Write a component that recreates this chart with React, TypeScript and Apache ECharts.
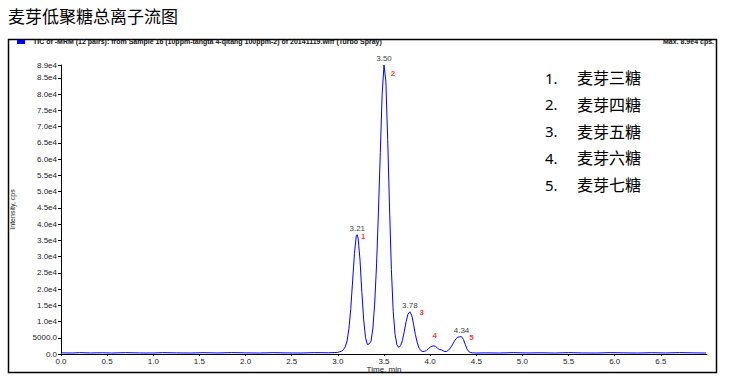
import React, { useEffect, useRef } from "react";
import * as echarts from "echarts";

const titleText = "麦芽低聚糖总离子流图";
const headerText =
  "TIC of -MRM (12 pairs): from Sample 16 (10ppm-tangta 4-qitang 100ppm-2) of 20141119.wiff (Turbo Spray)";
const maxText = "Max. 8.9e4 cps.";
const xAxisName = "Time, min";
const yAxisName = "Intensity, cps";

// chromatogram trace (time in min, intensity in cps)
const times = [
  0.0, 0.12, 0.2, 0.32, 0.45, 0.55, 0.7, 0.85, 1.0, 1.1, 1.25, 1.4, 1.55, 1.7, 1.85, 2.0, 2.15, 2.3, 2.45,
  2.6, 2.75, 2.9, 2.96, 3.0, 3.02, 3.04, 3.06, 3.08, 3.1, 3.12, 3.14, 3.16, 3.18, 3.2, 3.21, 3.22, 3.24,
  3.26, 3.28, 3.3, 3.32, 3.34, 3.36, 3.38, 3.4, 3.42, 3.44, 3.46, 3.48, 3.5, 3.52, 3.54, 3.56, 3.58, 3.6,
  3.62, 3.64, 3.66, 3.68, 3.7, 3.72, 3.74, 3.76, 3.78, 3.8, 3.82, 3.84, 3.86, 3.88, 3.9, 3.92, 3.94, 3.96,
  3.98, 4.0, 4.02, 4.04, 4.06, 4.08, 4.1, 4.12, 4.14, 4.16, 4.18, 4.2, 4.22, 4.24, 4.26, 4.28, 4.3, 4.32,
  4.34, 4.36, 4.38, 4.4, 4.42, 4.44, 4.46, 4.5, 4.6, 4.75, 4.9, 5.05, 5.2, 5.35, 5.5, 5.65, 5.8, 5.95,
  6.1, 6.25, 6.4, 6.55, 6.7, 6.85, 6.99,
];
const intensity = [
  350, 300, 420, 320, 380, 300, 420, 330, 300, 420, 350, 300, 400, 320, 430, 350, 300, 410, 330,
  300, 420, 380, 450, 500, 700, 900, 1300, 2200, 4000, 7800, 14000, 22500, 31000, 36500, 36700, 35500, 29000,
  19000, 10500, 5000, 2900, 3100, 4000, 8000, 16000, 28000, 44000, 62000, 80000, 89000, 84000, 66000, 45000, 26000, 13000,
  6000, 2800, 2000, 2600, 4200, 7000, 10000, 12300, 13000, 12000, 9200, 6000, 3500, 1800, 1000, 750, 800, 1100,
  1600, 2100, 2400, 2500, 2300, 1800, 1400, 1300, 1000, 750, 800, 1200, 1900, 2800, 3800, 4700, 5200, 5300,
  5340, 4500, 3000, 1500, 700, 450, 350, 300, 350, 300, 420, 320, 380, 300, 420, 330, 300, 420,
  350, 300, 400, 320, 430, 350, 300,
];

const peakTimes = [3.21, 3.5, 3.78, 4.05, 4.34];
const peakHeights = [36700, 89000, 13000, 2500, 5340];
const peakTimeLabels = ["3.21", "3.50", "3.78", "", "4.34"];
const peakNumbers = ["1", "2", "3", "4", "5"];

const legendNumbers = ["1.", "2.", "3.", "4.", "5."];
const legendNames = ["麦芽三糖", "麦芽四糖", "麦芽五糖", "麦芽六糖", "麦芽七糖"];

const xMin = 0;
const xMax = 7;
const xInterval = 0.5;
const yMin = 0;
const yMax = 89000;
const yInterval = 5000;

const axisFont = "'Liberation Sans', Arial, sans-serif";
const cjkFont = "'Noto Sans CJK SC', sans-serif";

export default function App() {
  const ref = useRef<HTMLDivElement>(null);
  useEffect(() => {
    if (!ref.current) return;
    const chart = echarts.init(ref.current, null, { renderer: "svg" });

    const line = times.map((t, i) => [t, intensity[i]]);
    const timeLabelData = peakTimes
      .map((t, i) => ({ value: [t, peakHeights[i]], name: peakTimeLabels[i] }))
      .filter((d) => d.name !== "");
    const numberOffsets = [
      [6, 2],
      [9, 8],
      [12, 1],
      [0, -10],
      [10, 1],
    ];
    const numberData = peakTimes.map((t, i) => ({
      value: [t, peakHeights[i]],
      name: peakNumbers[i],
      label: { offset: numberOffsets[i] },
    }));

    const legendGraphics: any[] = [];
    legendNumbers.forEach((n, i) => {
      const y = 79 + i * 26.75;
      legendGraphics.push({
        type: "text",
        left: 545,
        top: y - 9,
        style: { text: n, font: `15px 'Noto Sans', sans-serif`, fill: "#000" },
      });
      legendGraphics.push({
        type: "text",
        left: 577,
        top: y - 10,
        style: { text: legendNames[i], font: `16px ${cjkFont}`, fill: "#000" },
      });
    });

    chart.setOption({
      animation: false,
      backgroundColor: "#fff",
      grid: { left: 61, right: 22, top: 65, bottom: 26, containLabel: false },
      xAxis: {
        type: "value",
        min: xMin,
        max: xMax,
        interval: xInterval,
        name: xAxisName,
        nameLocation: "middle",
        nameGap: 11,
        nameMoveOverlap: false,
        nameTextStyle: { fontFamily: axisFont, fontSize: 8, color: "#222" },
        axisLine: { onZero: false, lineStyle: { color: "#000", width: 1 } },
        axisTick: { show: true, length: 2, lineStyle: { color: "#000" } },
        axisLabel: {
          showMaxLabel: false,
          margin: 3,
          fontFamily: axisFont,
          fontSize: 8,
          color: "#222",
          formatter: (v: number) => v.toFixed(1),
        },
        splitLine: { show: false },
      },
      yAxis: {
        type: "value",
        min: yMin,
        max: yMax,
        interval: yInterval,
        name: yAxisName,
        nameLocation: "middle",
        nameGap: 45,
        nameRotate: 90,
        nameMoveOverlap: false,
        nameTextStyle: { fontFamily: axisFont, fontSize: 7, color: "#222" },
        axisLine: { show: true, lineStyle: { color: "#000", width: 1 } },
        axisTick: { show: true, length: 3, lineStyle: { color: "#000" } },
        axisLabel: {
          margin: 4,
          fontFamily: axisFont,
          fontSize: 8,
          color: "#222",
          formatter: (v: number) =>
            v === 0 ? "0.0" : v < 10000 ? v.toFixed(1) : (v / 10000).toFixed(1) + "e4",
        },
        splitLine: { show: false },
      },
      series: [
        {
          type: "line",
          data: line,
          showSymbol: false,
          symbol: "none",
          lineStyle: { color: "#0000ff", width: 1 },
          z: 3,
        },
        {
          type: "scatter",
          data: timeLabelData,
          symbol: "circle",
          symbolSize: 1,
          itemStyle: { color: "rgba(0,0,0,0)" },
          label: {
            show: true,
            position: "top",
            distance: 2,
            formatter: (p: any) => p.name,
            fontFamily: axisFont,
            fontSize: 8,
            color: "#000",
          },
          z: 4,
        },
        {
          type: "scatter",
          data: numberData,
          symbol: "circle",
          symbolSize: 1,
          itemStyle: { color: "rgba(0,0,0,0)" },
          label: {
            show: true,
            position: "inside",
            formatter: (p: any) => p.name,
            fontFamily: axisFont,
            fontSize: 8,
            fontWeight: "bold",
            color: "#ff0000",
          },
          z: 4,
        },
      ],
      graphic: [
        {
          type: "text",
          left: 8,
          top: 7,
          style: { text: titleText, font: `17px ${cjkFont}`, fill: "#000" },
        },
        {
          type: "rect",
          shape: { x: 8.5, y: 39.5, width: 708, height: 333 },
          style: { fill: "none", stroke: "#000", lineWidth: 1.5 },
          silent: true,
        },
        {
          type: "rect",
          shape: { x: 17, y: 40, width: 8, height: 4 },
          style: { fill: "#0000ff" },
        },
        {
          type: "text",
          left: 33,
          top: 38,
          style: { text: headerText, font: `bold 7px ${axisFont}`, fill: "#111" },
        },
        {
          type: "text",
          right: 15,
          top: 38,
          style: { text: maxText, font: `bold 7px ${axisFont}`, fill: "#111" },
        },
        ...legendGraphics,
      ],
    });
    return () => chart.dispose();
  }, []);
  return (
    <div
      ref={ref}
      style={{ position: "fixed", left: 0, top: 0, width: 729, height: 380, background: "#fff" }}
    />
  );
}
